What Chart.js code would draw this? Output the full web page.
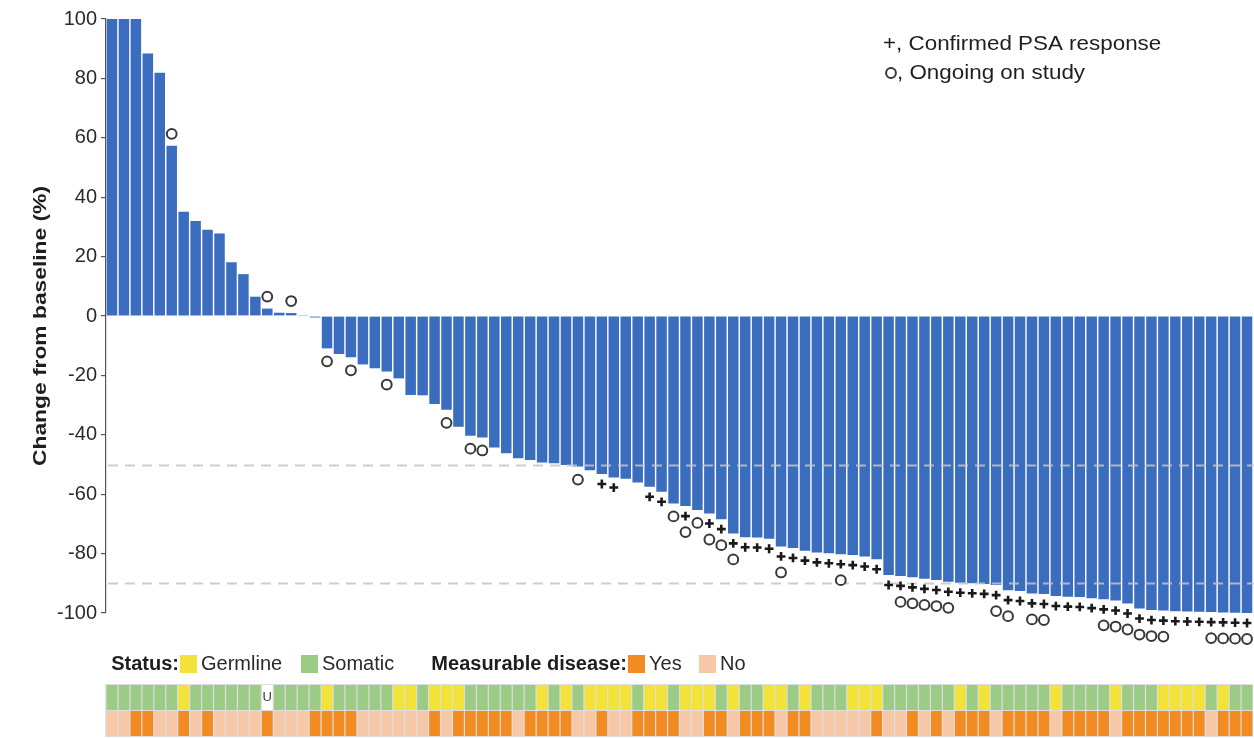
<!DOCTYPE html>
<html>
<head>
<meta charset="utf-8">
<script src="https://cdn.jsdelivr.net/npm/chart.js@4.4.1/dist/chart.umd.min.js"></script>
<style>
  html, body { margin: 0; padding: 0; background: #ffffff; }
  #wrap { width: 1254px; height: 739px; position: relative; }
  canvas { display: block; }
</style>
</head>
<body>
<div id="wrap"><canvas id="waterfall" width="1254" height="739"></canvas></div>
<script>
// Best PSA change from baseline (%) per patient, sorted high to low
const changePct = [
  100, 100, 100, 88.4, 81.9, 57.3, 35.1, 32.0, 29.0, 27.8,
  18.1, 14.1, 6.5, 2.5, 1.1, 1.0, 0.3, -0.5, -10.9, -12.8,
  -13.9, -16.3, -17.6, -18.7, -21.0, -26.6, -26.7, -29.6, -31.6, -37.3,
  -40.3, -40.9, -44.3, -46.2, -47.9, -48.5, -49.3, -49.6, -50.2, -50.7,
  -51.9, -53.2, -54.4, -54.8, -56.1, -57.5, -59.2, -63.1, -64.0, -65.3,
  -66.5, -68.4, -73.2, -74.5, -74.6, -75.0, -77.6, -78.1, -79.0, -79.6,
  -79.9, -80.2, -80.5, -81.0, -81.9, -87.2, -87.5, -88.0, -88.5, -88.9,
  -89.5, -89.8, -90.0, -90.2, -90.6, -92.3, -92.6, -93.4, -93.6, -94.3,
  -94.5, -94.6, -95.0, -95.4, -95.8, -96.8, -98.5, -99.0, -99.2, -99.4,
  -99.5, -99.6, -99.7, -99.8, -99.9, -100
];

// Alteration status: G = germline, S = somatic, U = unknown
const alterationStatus = [
  'S','S','S','S','S','S','G','S','S','S',
  'S','S','S','U','S','S','S','S','G','S',
  'S','S','S','S','G','G','S','G','G','G',
  'S','S','S','S','S','S','G','S','G','S',
  'G','G','G','G','S','G','G','S','G','G',
  'G','S','G','S','S','G','G','S','G','S',
  'S','S','G','G','G','S','S','S','S','S',
  'S','G','S','G','S','S','S','S','S','G',
  'S','S','S','S','G','S','S','S','G','G',
  'G','G','S','G','S','S'
];

// Measurable disease at baseline: Y = yes, N = no
const measurableDisease = [
  'N','N','Y','Y','N','N','Y','N','Y','N',
  'N','N','N','Y','N','N','N','Y','Y','Y',
  'Y','N','N','N','N','N','N','Y','N','Y',
  'Y','Y','Y','Y','N','Y','Y','Y','Y','N',
  'N','Y','N','N','Y','Y','Y','Y','N','N',
  'Y','Y','N','Y','Y','Y','N','Y','Y','N',
  'N','N','N','N','Y','N','N','Y','N','Y',
  'N','Y','Y','Y','N','Y','Y','Y','Y','N',
  'Y','Y','Y','Y','N','Y','Y','Y','Y','Y',
  'Y','Y','N','Y','Y','Y'
];

// Patient numbers (1-based position in the waterfall)
const confirmedPsaResponse = [
  42, 43, 46, 47, 49, 51, 52, 53, 54, 55, 56, 57, 58, 59, 60, 61, 62, 63, 64, 65,
  66, 67, 68, 69, 70, 71, 72, 73, 74, 75, 76, 77, 78, 79, 80, 81, 82, 83, 84, 85,
  86, 87, 88, 89, 90, 91, 92, 93, 94, 95, 96
];
const ongoingOnStudy = [
  6, 14, 16, 19, 21, 24, 29, 31, 32, 40, 48, 49, 50, 51, 52, 53, 57, 62,
  67, 68, 69, 70, 71, 75, 76, 78, 79, 84, 85, 86, 87, 88, 89, 93, 94, 95, 96
];

const yTickValues = [100, 80, 60, 40, 20, 0, -20, -40, -60, -80, -100];
const thresholdLines = [-50, -90];

const patients = changePct.map((_, i) => 'Patient ' + (i + 1));

const FONT = "'Liberation Sans', Arial, Helvetica, sans-serif";
const BAR_BLUE = '#3b6dbf';
const COLORS = {
  G: '#f3e237', S: '#9ccb86', U: '#ffffff',
  Y: '#f28c22', N: '#f7c8a8'
};

const psaSet = new Set(confirmedPsaResponse);
const ongoingSet = new Set(ongoingOnStudy);

function drawPlus(ctx, x, y) {
  ctx.save();
  ctx.strokeStyle = '#1a1a1a';
  ctx.lineWidth = 2.6;
  ctx.beginPath();
  ctx.moveTo(x - 4.4, y); ctx.lineTo(x + 4.4, y);
  ctx.moveTo(x, y - 4.4); ctx.lineTo(x, y + 4.4);
  ctx.stroke();
  ctx.restore();
}

function drawRing(ctx, x, y) {
  ctx.save();
  ctx.fillStyle = '#ffffff';
  ctx.strokeStyle = '#383838';
  ctx.lineWidth = 2;
  ctx.beginPath();
  ctx.arc(x, y, 4.9, 0, Math.PI * 2);
  ctx.fill();
  ctx.stroke();
  ctx.restore();
}

function stretchedText(ctx, text, x, y, sx, align) {
  ctx.save();
  ctx.translate(x, y);
  ctx.scale(sx, 1);
  ctx.textAlign = align || 'left';
  ctx.fillText(text, 0, 0);
  ctx.restore();
}

const overlay = {
  id: 'waterfallOverlay',
  afterDatasetsDraw(chart) {
    const { ctx, chartArea, scales } = chart;
    const yScale = scales.y;
    const xScale = scales.x;
    const meta = chart.getDatasetMeta(0);

    // threshold reference lines
    ctx.save();
    ctx.strokeStyle = 'rgba(196,196,196,0.85)';
    ctx.lineWidth = 2;
    ctx.setLineDash([10, 7]);
    thresholdLines.forEach(v => {
      const y = Math.round(yScale.getPixelForValue(v)) + 0.5;
      ctx.beginPath();
      ctx.moveTo(chartArea.left + 2, y);
      ctx.lineTo(chartArea.right + 1, y);
      ctx.stroke();
    });
    ctx.restore();

    // response / ongoing markers next to each bar end
    meta.data.forEach((bar, i) => {
      const n = i + 1;
      const v = changePct[i];
      const x = bar.x;
      const yEnd = bar.y;
      if (v >= 0) {
        if (ongoingSet.has(n)) drawRing(ctx, x, yEnd - 12);
        return;
      }
      const hasPlus = psaSet.has(n);
      if (hasPlus) drawPlus(ctx, x, yEnd + 10);
      if (ongoingSet.has(n)) drawRing(ctx, x, yEnd + (hasPlus ? 26 : 13));
    });

    // annotation tracks under the plot
    const pitch = xScale.getPixelForValue(1) - xScale.getPixelForValue(0);
    const rowTop1 = 685, rowH = 25, rowTop2 = 711;
    const left = xScale.getPixelForValue(0) - pitch / 2;
    const right = xScale.getPixelForValue(changePct.length - 1) + pitch / 2;
    ctx.save();
    ctx.fillStyle = '#dedede';
    ctx.fillRect(left - 1, rowTop1 - 1, right - left + 1, rowTop2 + rowH - rowTop1 + 2);
    meta.data.forEach((bar, i) => {
      const x0 = bar.x - pitch / 2 + 0.6;
      const w = pitch - 1.2;
      ctx.fillStyle = COLORS[alterationStatus[i]];
      ctx.fillRect(x0, rowTop1, w, rowH);
      ctx.fillStyle = COLORS[measurableDisease[i]];
      ctx.fillRect(x0, rowTop2, w, rowH);
      if (alterationStatus[i] === 'U') {
        ctx.fillStyle = '#3a3a3a';
        ctx.font = '13px ' + FONT;
        ctx.textAlign = 'center';
        ctx.textBaseline = 'middle';
        ctx.fillText('U', bar.x, rowTop1 + rowH / 2);
      }
    });
    ctx.restore();
  },
  afterDraw(chart) {
    const { ctx, chartArea } = chart;
    ctx.save();
    ctx.fillStyle = '#1e1e1e';
    ctx.textBaseline = 'middle';

    // y axis title
    ctx.save();
    ctx.translate(41, (chartArea.top + chartArea.bottom) / 2 + 10);
    ctx.rotate(-Math.PI / 2);
    ctx.font = 'bold 19px ' + FONT;
    ctx.scale(1.2, 1);
    ctx.textAlign = 'center';
    ctx.fillText('Change from baseline (%)', 0, 0);
    ctx.restore();

    // marker key, top right
    ctx.font = '20px ' + FONT;
    stretchedText(ctx, '+, Confirmed PSA response', 883, 44, 1.12);
    drawRing(ctx, 891, 73);
    stretchedText(ctx, ', Ongoing on study', 897, 73, 1.12);

    // track key
    const keyY = 664;
    ctx.fillStyle = '#1e1e1e';
    ctx.font = 'bold 20px ' + FONT;
    ctx.textAlign = 'right';
    ctx.fillText('Status:', 179, keyY);
    ctx.fillText('Measurable disease:', 627, keyY);
    const swatches = [
      { x: 180, c: COLORS.G, label: 'Germline' },
      { x: 301, c: COLORS.S, label: 'Somatic' },
      { x: 628, c: COLORS.Y, label: 'Yes' },
      { x: 699, c: COLORS.N, label: 'No' }
    ];
    ctx.font = '20px ' + FONT;
    ctx.textAlign = 'left';
    swatches.forEach(s => {
      ctx.fillStyle = s.c;
      ctx.fillRect(s.x, keyY - 9, 17, 18);
      ctx.fillStyle = '#2a2a2a';
      ctx.fillText(s.label, s.x + 21, keyY);
    });
    ctx.restore();
  }
};

new Chart(document.getElementById('waterfall').getContext('2d'), {
  type: 'bar',
  data: {
    labels: patients,
    datasets: [{
      data: changePct,
      backgroundColor: BAR_BLUE,
      borderWidth: 0,
      barPercentage: 0.88,
      categoryPercentage: 1
    }]
  },
  options: {
    responsive: false,
    animation: false,
    devicePixelRatio: 1,
    layout: { padding: { top: 19, bottom: 126, left: 0, right: 1 } },
    plugins: { legend: { display: false }, tooltip: { enabled: false } },
    scales: {
      x: { display: false, offset: true },
      y: {
        min: -100,
        max: 100,
        afterBuildTicks: s => { s.ticks = yTickValues.map(v => ({ value: v })); },
        afterFit: s => { s.width = 106; },
        grid: { drawOnChartArea: false, drawTicks: true, tickLength: 5, color: '#555555', lineWidth: 1.2 },
        border: { display: true, color: '#555555', width: 1.2 },
        ticks: { font: { family: FONT, size: 20 }, color: '#2a2a2a', padding: 4 }
      }
    }
  },
  plugins: [overlay]
});
</script>
</body>
</html>
